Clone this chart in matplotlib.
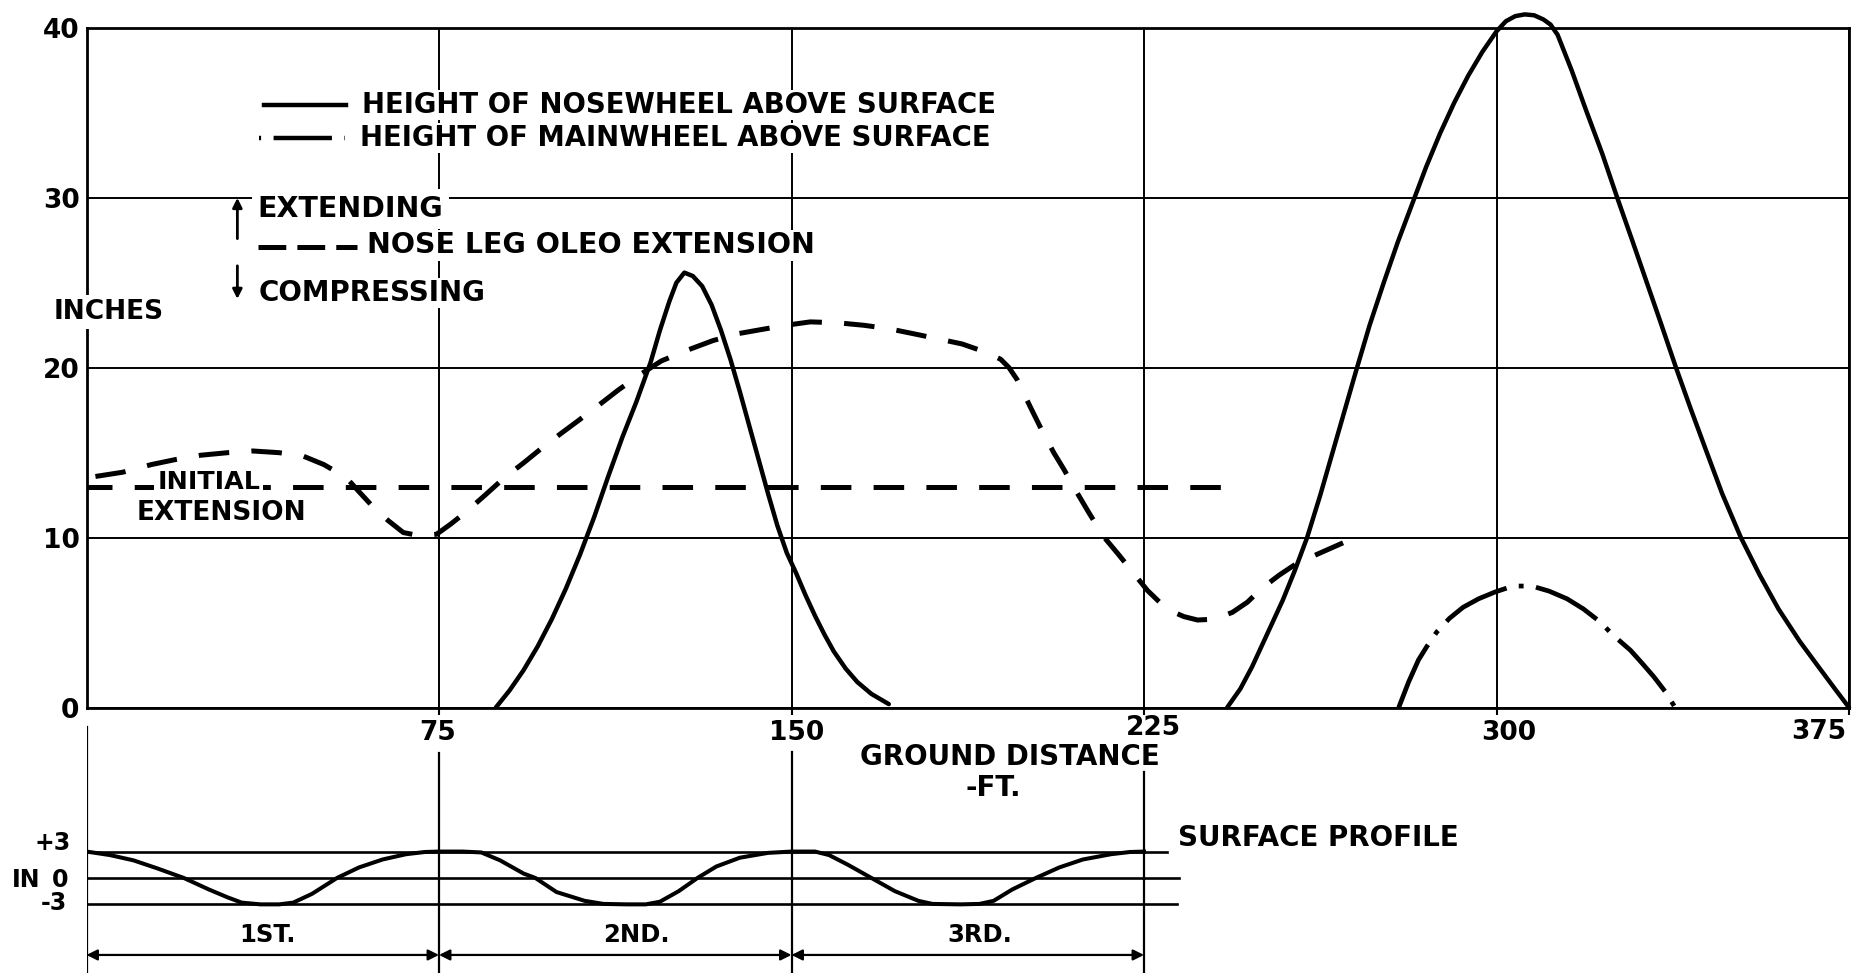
import numpy as np
import matplotlib
matplotlib.use("Agg")
import matplotlib.pyplot as plt

plt.rcParams['font.family'] = ['DejaVu Sans']
plt.rcParams['font.weight'] = 'bold'
plt.rcParams['lines.scale_dashes'] = False

# nosewheel height above surface (solid), two hops
nose1_x = [87.1, 90, 93, 96, 99, 102, 105, 108, 111, 114, 117, 120, 122, 124, 125.5, 127.2, 129,
           131, 133, 135, 137, 139, 141, 143, 145, 147, 149, 151, 153, 155, 157, 159, 161.5, 164,
           167, 170.7]
nose1_y = [0, 1.0, 2.2, 3.6, 5.2, 7.0, 9.0, 11.2, 13.6, 15.9, 18.0, 20.3, 22.2, 23.9, 25.0, 25.6, 25.4,
           24.8, 23.7, 22.2, 20.5, 18.6, 16.6, 14.6, 12.6, 10.7, 9.1, 7.9, 6.6, 5.4, 4.3, 3.3, 2.3, 1.5,
           0.8, 0.2]
nose2_x = [242.7, 245.5, 248, 251, 254.5, 257, 259.7, 262.5, 265, 267.5, 270, 273, 276, 279, 282, 285,
           288, 291, 294, 297, 300, 302, 304, 306, 308, 310, 311.5, 313, 316, 319, 322.5, 325.7, 329,
           332, 335, 338.2, 341.3, 344.5, 348, 352, 356, 360, 364.5, 368.5, 372, 375]
nose2_y = [0, 1.1, 2.4, 4.2, 6.3, 8.0, 10.0, 12.5, 14.9, 17.3, 19.7, 22.5, 25.0, 27.4, 29.6, 31.8,
           33.8, 35.6, 37.2, 38.6, 39.8, 40.4, 40.7, 40.8, 40.75, 40.5, 40.2, 39.6, 37.5, 35.2, 32.6,
           30.0, 27.4, 25.0, 22.6, 20.0, 17.6, 15.2, 12.6, 10.0, 7.8, 5.8, 3.9, 2.4, 1.1, 0.0]

# mainwheel height above surface (dash-dot)
main_x = [279.2, 281.3, 283.4, 285.2, 287.3, 290, 292.9, 296.2, 299.7, 303.5, 307.5, 311.2, 315,
          318.5, 322, 324.8, 328.5, 331, 333.5, 336, 338]
main_y = [0, 1.5, 2.8, 3.6, 4.45, 5.25, 5.9, 6.4, 6.8, 7.15, 7.15, 6.85, 6.4, 5.8, 5.05, 4.26,
          3.37, 2.6, 1.8, 0.9, 0.0]

# nose leg oleo extension (dashed)
oleo_x = [1.9, 7.7, 13.8, 19, 24.3, 30, 35.4, 41, 46.1, 50.5, 55.2, 58, 61, 64.2, 67.4, 71, 74.5, 77.5,
          80.7, 84.8, 88.8, 93, 97, 100.8, 104.7, 109, 113.2, 117.8, 122.3, 127.5, 133.3, 138.5, 143.6,
          148.8, 154, 159.7, 165.4, 170.7, 176, 181.2, 186.3, 191.5, 194.5, 196.3, 198, 200.8, 203.3,
          205.8, 208, 210, 213.2, 216.4, 219.6, 222.8, 225.7, 228.5, 230.6, 233.5, 236.4, 240, 243.8,
          247, 250, 253.8, 257.6, 262.5, 267.4, 270.9]
oleo_y = [13.6, 13.85, 14.3, 14.6, 14.85, 15.0, 15.1, 15.0, 14.8, 14.3, 13.55, 12.7, 11.8, 11.0, 10.3,
          10.1, 10.2, 10.8, 11.5, 12.5, 13.5, 14.4, 15.3, 16.1, 16.9, 17.8, 18.7, 19.6, 20.4, 21.0,
          21.6, 22.0, 22.25, 22.5, 22.7, 22.65, 22.5, 22.3, 22.0, 21.7, 21.4, 20.9, 20.5, 20.0, 19.3,
          17.7, 16.3, 15.0, 14.0, 13.0, 11.5, 10.06, 9.0, 7.9, 6.9, 6.15, 5.7, 5.35, 5.15, 5.2, 5.6,
          6.2, 7.0, 7.8, 8.5, 9.1, 9.7, 10.2]
initial_ext = 13.0
initial_ext_end = 241.5

# surface profile, inches
prof_x = [0, 5, 10, 15, 20.7, 26, 30, 33, 37, 41, 44, 48, 53.3, 58, 63, 68, 72,
          75, 80, 84, 88, 93, 95.5, 100, 106, 110, 115, 119, 122, 126, 130, 134, 139, 145,
          150, 155, 158, 162, 167, 172, 177, 180, 186, 190, 193, 197, 202, 207, 212, 218, 222, 225]
prof_y = [3, 2.6, 2.0, 1.1, 0, -1.3, -2.2, -2.8, -3, -3, -2.8, -1.8, 0, 1.2, 2.1, 2.7, 2.95,
          3, 3, 2.9, 2.0, 0.5, 0, -1.6, -2.6, -2.95, -3, -3, -2.7, -1.5, 0, 1.3, 2.3, 2.85,
          3, 3, 2.6, 1.5, 0, -1.5, -2.6, -2.95, -3, -2.95, -2.6, -1.3, 0, 1.2, 2.1, 2.7, 2.95, 3]
bump_edges = [0, 75, 150, 225]
bump_names = ['1ST.', '2ND.', '3RD.']
bump_label_x = [38.5, 117, 190]

xticks = [75, 150, 225, 300, 375]
yticks = [0, 10, 20, 30, 40]

W, H = 1867, 973
fig = plt.figure(figsize=(W / 100, H / 100), dpi=100)

L, R = 86.5, 1849
ax = fig.add_axes([L / W, 1 - 707.5 / H, (R - L) / W, (707.5 - 28) / H])
ax.set_xlim(0, 375)
ax.set_ylim(0, 40)
ax.set_xticks(xticks)
ax.set_xticklabels([])
ax.set_yticks(yticks)
ax.set_yticklabels([str(v) for v in yticks])
ax.grid(True, color='black', lw=1.4)
ax.set_axisbelow(True)
for s in ax.spines.values():
    s.set_linewidth(2.0)
ax.tick_params(axis='x', direction='out', length=5, width=1.5)
ax.tick_params(axis='y', length=0, pad=5, labelsize=19)

# hand-lettered tick numbers sit a little off their grid lines
for v, nudge, yl in zip(xticks, [-0.3, 1.1, 2.1, 2.6, -0.5], [-1.5, -1.5, -1.2, -1.5, -1.45]):
    ax.text(v + nudge, yl, str(v), fontsize=19, ha='right' if v == 375 else 'center',
            va='center', clip_on=False)

dashed = (0, (22, 16))
dashdot = (0, (50, 9, 3.5, 9))

ax.plot(nose1_x, nose1_y, color='black', lw=3.2, solid_capstyle='round')
ax.plot(nose2_x, nose2_y, color='black', lw=3.2, solid_capstyle='round', clip_on=False)
ax.plot(main_x, main_y, color='black', lw=3.4, linestyle=dashdot)
ax.plot(oleo_x, oleo_y, color='black', lw=3.6, linestyle=dashed)
ax.plot([0, initial_ext_end], [initial_ext, initial_ext], color='black', lw=3.6, linestyle=(4, (22, 16)))

# legend, drawn in place
ax.plot([37.7, 55.3], [35.46, 35.46], color='black', lw=3.2)
ax.text(58.6, 35.46, 'HEIGHT OF NOSEWHEEL ABOVE SURFACE', fontsize=19.8, va='center',
        bbox=dict(facecolor='white', edgecolor='none', pad=1))
ax.plot([36.8, 54.9], [33.52, 33.52], color='black', lw=3.2, linestyle=(51, (42, 9, 1.5, 9)))
ax.text(58.1, 33.52, 'HEIGHT OF MAINWHEEL ABOVE SURFACE', fontsize=19.8, va='center',
        bbox=dict(facecolor='white', edgecolor='none', pad=1))
ax.annotate('', xy=(32.1, 30.0), xytext=(32.1, 27.6),
            arrowprops=dict(arrowstyle='-|>', color='black', lw=2, mutation_scale=14, shrinkA=0, shrinkB=0))
ax.text(36.4, 29.34, 'EXTENDING', fontsize=20.5, va='center',
        bbox=dict(facecolor='white', edgecolor='none', pad=4))
ax.plot([36.4, 57.6], [27.1, 27.1], color='black', lw=3.6, linestyle=(0, (20, 8)))
ax.text(59.6, 27.2, 'NOSE LEG OLEO EXTENSION', fontsize=20.5, va='center',
        bbox=dict(facecolor='white', edgecolor='none', pad=1))
ax.annotate('', xy=(32.1, 24.05), xytext=(32.1, 26.0),
            arrowprops=dict(arrowstyle='-|>', color='black', lw=2, mutation_scale=14, shrinkA=0, shrinkB=0))
ax.text(36.6, 24.4, 'COMPRESSING', fontsize=20, va='center',
        bbox=dict(facecolor='white', edgecolor='none', pad=1))
ax.text(-7.0, 23.28, 'INCHES', fontsize=19, va='center', clip_on=False, zorder=5,
        bbox=dict(facecolor='white', edgecolor='none', pad=3))
ax.text(26.0, 13.3, 'INITIAL', fontsize=18.3, va='center', ha='center', zorder=5,
        bbox=dict(facecolor='white', edgecolor='none', pad=2))
ax.text(28.7, 11.45, 'EXTENSION', fontsize=19, va='center', ha='center')
ax.text(196.5, -2.9, 'GROUND DISTANCE', fontsize=20, ha='center', va='center', clip_on=False)
ax.text(192.9, -4.75, '-FT.', fontsize=20, ha='center', va='center', clip_on=False)

# surface profile strip
top_px, bot_px = 720, 973
ax2 = fig.add_axes([L / W, 1 - bot_px / H, (R - L) / W, (bot_px - top_px) / H])
ax2.set_xlim(0, 375)
ax2.set_ylim(-10.8, 17.95)
ax2.axis('off')
ax2.plot([0, 229.8], [3, 3], color='black', lw=1.9)
ax2.plot([0, 232.5], [0, 0], color='black', lw=1.9)
ax2.plot([0, 232.0], [-3, -3], color='black', lw=1.9)
ax2.plot(prof_x, prof_y, color='black', lw=2.9)
for xe, ytop in zip(bump_edges, [17.2, 14.2, 14.3, 12.05]):
    ax2.plot([xe, xe], [ytop, -10.8], color='black', lw=1.6)
for a, b in zip(bump_edges[:-1], bump_edges[1:]):
    ax2.annotate('', xy=(b, -8.75), xytext=(a, -8.75),
                 arrowprops=dict(arrowstyle='<|-|>', color='black', lw=1.6, mutation_scale=16,
                                 shrinkA=0, shrinkB=0))
for name, xl in zip(bump_names, bump_label_x):
    ax2.text(xl, -6.5, name, fontsize=17.5, ha='center', va='center')
ax2.text(232.2, 4.5, 'SURFACE PROFILE', fontsize=20, va='center')
ax2.text(-3.4, 4.0, '+3', fontsize=17, ha='right', va='center', clip_on=False)
ax2.text(-3.8, -0.2, '0', fontsize=17, ha='right', va='center', clip_on=False)
ax2.text(-4.2, -2.9, '-3', fontsize=17, ha='right', va='center', clip_on=False)
ax2.text(-15.9, -0.2, 'IN', fontsize=17, ha='left', va='center', clip_on=False)

fig.savefig('out.png', dpi=100)
